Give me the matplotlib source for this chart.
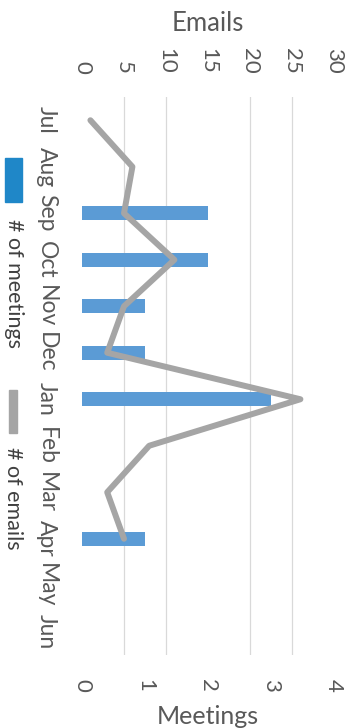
import numpy as np
import matplotlib
matplotlib.use("Agg")
import matplotlib.pyplot as plt
from matplotlib.patches import Rectangle

plt.rcParams['font.family'] = ['Lato', 'DejaVu Sans']

# données
mois = ["Jul", "Aug", "Sep", "Oct", "Nov", "Dec", "Jan", "Feb", "Mar", "Apr", "May", "Jun"]
reunions = [0, 0, 2, 2, 1, 1, 3, 0, 0, 1, 0, 0]
emails = [1, 6, 5, 11, 5, 3, 26, 8, 3, 5, np.nan, np.nan]

W, H = 352, 728
gris_txt = "#595959"
bleu = "#5b9bd5"
gris = "#a5a5a5"

fig = plt.figure(figsize=(W / 100, H / 100), dpi=100)

# zone du graphe en pixels (gauche, haut, droite, bas)
x0, y0, x1, y1 = 82, 97, 334, 655
ax = fig.add_axes([x0 / W, 1 - y1 / H, (x1 - x0) / W, (y1 - y0) / H])

pos = np.arange(len(mois))
ax.barh(pos, reunions, height=0.3, color=bleu, zorder=2)
ax.set_xlim(0, 4)
ax.set_ylim(len(mois) - 0.5, -0.5)
ax.set_xticks(range(5))
ax.set_yticks(pos)
ax.set_yticklabels(mois, rotation=-90, va="center")
ax.set_xticks(np.linspace(0, 4, 7), minor=True)
ax.grid(which="minor", axis="x", color="#d9d9d9", lw=0.9, zorder=0)
ax.set_axisbelow(True)
for lbl in ax.get_xticklabels():
    lbl.set_rotation(-90)
ax.tick_params(which="both", length=0, colors=gris_txt, labelsize=16, pad=17)
ax.tick_params(axis="y", labelsize=16.5, pad=18)
ax.set_xlabel("Meetings", fontsize=18, color=gris_txt, labelpad=10)
for s in ax.spines.values():
    s.set_visible(False)

# axe du haut pour les emails
ax2 = ax.twiny()
ax2.plot(emails, pos, color=gris, lw=4.3, solid_capstyle="round",
         solid_joinstyle="round", zorder=3)
ax2.set_xlim(0, 30)
ax2.set_xticks(range(0, 31, 5))
for lbl in ax2.get_xticklabels():
    lbl.set_rotation(-90)
ax2.tick_params(length=0, colors=gris_txt, labelsize=16, pad=17)
ax2.set_xlabel("Emails", fontsize=18.5, color=gris_txt, labelpad=12)
for s in ax2.spines.values():
    s.set_visible(False)

# légende verticale faite à la main
def rect_px(x, y, w, h, c):
    fig.patches.append(Rectangle((x / W, 1 - (y + h) / H), w / W, h / H,
                                 transform=fig.transFigure, color=c))

rect_px(5, 158, 17, 44, "#1f87c8")
fig.text(13.5 / W, 1 - 219 / H, "# of meetings", rotation=-90, ha="center", va="top",
         fontsize=15.5, color="#404040")
rect_px(9, 390, 8, 43, gris)
fig.text(12.5 / W, 1 - 447 / H, "# of emails", rotation=-90, ha="center", va="top",
         fontsize=15.5, color="#404040")

fig.savefig("out.png", dpi=100)
